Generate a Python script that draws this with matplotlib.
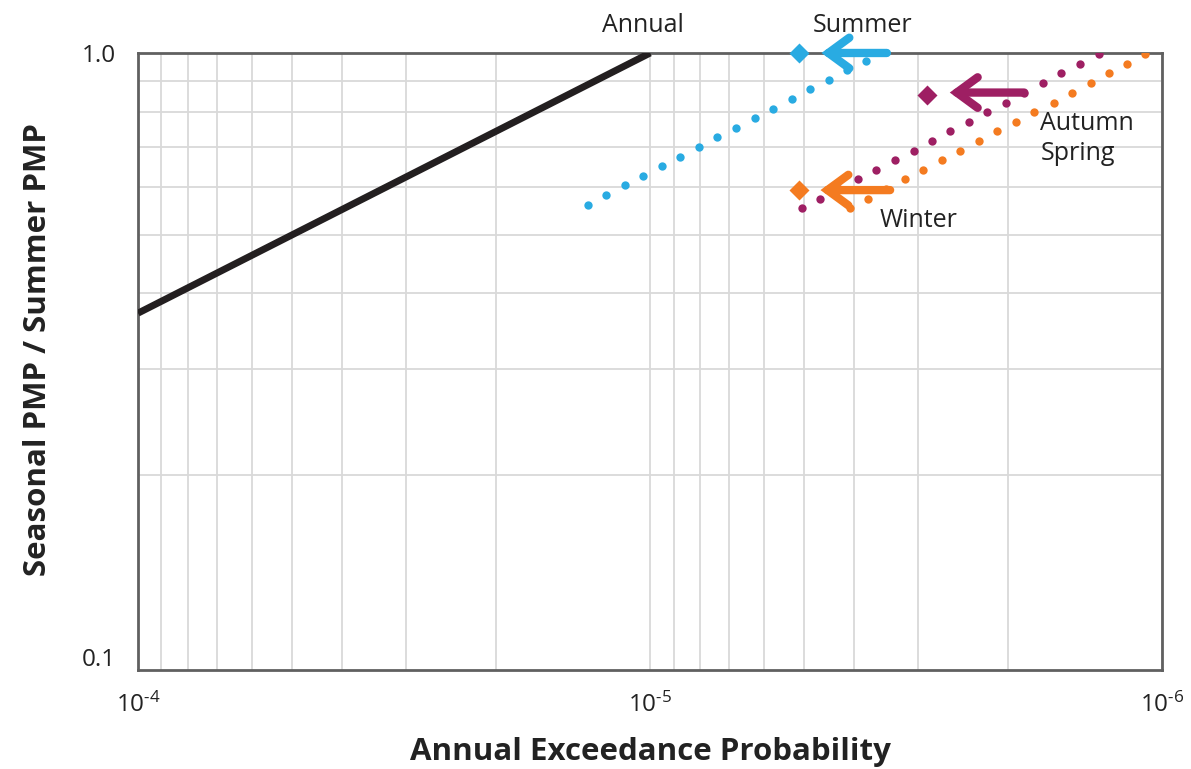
import matplotlib
matplotlib.use('Agg')
import matplotlib.pyplot as plt
from matplotlib.ticker import FixedLocator, FixedFormatter, NullFormatter

plt.rcParams['font.family'] = ['Open Sans', 'DejaVu Sans']
plt.rcParams['mathtext.fontset'] = 'custom'
plt.rcParams['mathtext.rm'] = 'Open Sans'
plt.rcParams['mathtext.default'] = 'regular'

# annual curve (end points)
annual_x = [1e-4, 1e-5]
annual_y = [0.371, 1.0]

# seasonal dotted series
summer_x = [1.323e-5, 1.217e-5, 1.119e-5, 1.031e-5, 9.48e-6, 8.73e-6, 8.02e-6, 7.39e-6,
            6.79e-6, 6.24e-6, 5.75e-6, 5.29e-6, 4.87e-6, 4.48e-6, 4.12e-6, 3.79e-6]
summer_y = [0.560, 0.582, 0.604, 0.626, 0.649, 0.673, 0.699, 0.725,
            0.751, 0.780, 0.809, 0.839, 0.871, 0.902, 0.936, 0.971]

autumn_x = [5.05e-6, 4.65e-6, 4.28e-6, 3.93e-6, 3.62e-6, 3.33e-6, 3.06e-6, 2.82e-6, 2.60e-6,
            2.39e-6, 2.20e-6, 2.02e-6, 1.86e-6, 1.71e-6, 1.58e-6, 1.45e-6, 1.33e-6]
autumn_y = [0.553, 0.574, 0.595, 0.618, 0.641, 0.664, 0.689, 0.715, 0.742,
            0.769, 0.799, 0.828, 0.859, 0.891, 0.925, 0.959, 0.995]

spring_x = [4.08e-6, 3.76e-6, 3.46e-6, 3.18e-6, 2.93e-6, 2.69e-6, 2.48e-6, 2.28e-6, 2.10e-6,
            1.93e-6, 1.78e-6, 1.63e-6, 1.50e-6, 1.38e-6, 1.27e-6, 1.17e-6, 1.08e-6]
spring_y = autumn_y

# diamonds and arrows (tail -> tip)
summer_pt = (5.11e-6, 1.0)
autumn_pt = (2.88e-6, 0.852)
winter_pt = (5.11e-6, 0.593)
summer_arrow = [(3.45e-6, 1.0), (4.63e-6, 1.0)]
autumn_arrow = [(1.86e-6, 0.860), (2.60e-6, 0.860)]
winter_arrow = [(3.40e-6, 0.593), (4.65e-6, 0.593)]

blue = '#29abe2'
purple = '#9e1f63'
orange = '#f47b20'
txt = '#222222'

fig = plt.figure(figsize=(11.91, 7.69), dpi=100)
ax = fig.add_axes([0.1159, 0.1287, 0.86, 0.8024])

ax.plot(annual_x, annual_y, color='#231f20', lw=5, solid_capstyle='butt', zorder=3)
ax.plot(summer_x, summer_y, 'o', color=blue, ms=6, mec='none', zorder=3)
ax.plot(autumn_x, autumn_y, 'o', color=purple, ms=6, mec='none', zorder=3)
ax.plot(spring_x, spring_y, 'o', color=orange, ms=6, mec='none', zorder=3)

for pt, arr, c in [(summer_pt, summer_arrow, blue), (autumn_pt, autumn_arrow, purple),
                   (winter_pt, winter_arrow, orange)]:
    ax.plot([pt[0]], [pt[1]], 'D', color=c, ms=10.5, mec='none', zorder=5, clip_on=False)
    ax.annotate('', xy=arr[1], xytext=arr[0], zorder=5, annotation_clip=False,
                arrowprops=dict(arrowstyle='->,head_length=0.75,head_width=0.55', lw=6,
                                color=c, mutation_scale=20, shrinkA=0, shrinkB=0,
                                capstyle='round', joinstyle='miter'))

ax.text(1.032e-5, 1.085, 'Annual', fontsize=18, color=txt, ha='center', va='baseline')
ax.text(3.84e-6, 1.085, 'Summer', fontsize=18, color=txt, ha='center', va='baseline')
ax.text(1.73e-6, 0.746, 'Autumn', fontsize=18, color=txt, ha='left', va='baseline')
ax.text(1.73e-6, 0.665, 'Spring', fontsize=18, color=txt, ha='left', va='baseline')
ax.text(3.57e-6, 0.516, 'Winter', fontsize=18, color=txt, ha='left', va='baseline')

ax.set_xscale('log')
ax.set_yscale('log')
ax.set_xlim(1e-4, 1e-6)
ax.set_ylim(0.0952, 1.0)

xmin = [m * 10.0 ** e for e in (-5, -6) for m in range(2, 10)]
ax.xaxis.set_major_locator(FixedLocator([1e-4, 1e-5, 1e-6]))
ax.xaxis.set_major_formatter(FixedFormatter([r'10$^{\text{-}4}$', r'10$^{\text{-}5}$', r'10$^{\text{-}6}$']))
ax.xaxis.set_minor_locator(FixedLocator(xmin))
ax.xaxis.set_minor_formatter(NullFormatter())
ax.yaxis.set_major_locator(FixedLocator([0.1, 1.0]))
ax.yaxis.set_major_formatter(FixedFormatter(['0.1', '1.0']))
ax.yaxis.set_minor_locator(FixedLocator([0.2, 0.3, 0.4, 0.5, 0.6, 0.7, 0.8, 0.9]))
ax.yaxis.set_minor_formatter(NullFormatter())

ax.tick_params(which='both', length=0, labelsize=17.5, labelcolor=txt)
ax.tick_params(axis='x', pad=16)
ax.tick_params(axis='y', pad=16)
ax.xaxis.grid(True, which='both', color='#d9d9d9', lw=1.3)
ax.yaxis.grid(True, which='minor', color='#d9d9d9', lw=1.3)
ax.set_axisbelow(True)
for s in ax.spines.values():
    s.set_color('#606060')
    s.set_linewidth(2)

ax.set_xlabel('Annual Exceedance Probability', fontsize=22.5, fontweight='bold', color=txt)
ax.set_ylabel('Seasonal PMP / Summer PMP', fontsize=22.5, fontweight='bold', color=txt)
ax.xaxis.set_label_coords(0.5, -0.108)
ax.yaxis.set_label_coords(-0.083, 0.52)

fig.savefig('out.png', dpi=100)
